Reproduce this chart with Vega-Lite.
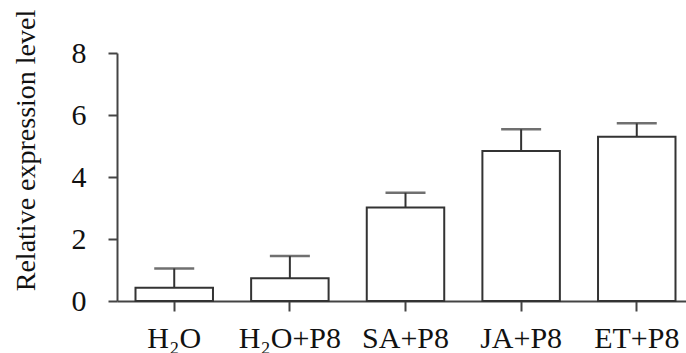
{
  "$schema": "https://vega.github.io/schema/vega-lite/v6.json",
  "autosize": "none",
  "width": 577,
  "height": 248,
  "padding": {"left": 117, "top": 53, "right": 0, "bottom": 52},
  "background": "white",
  "config": {
    "view": {"stroke": null},
    "font": "Liberation Serif"
  },
  "data": {
    "values": [
      {"treatment": "H₂O", "mean": 0.43, "upper": 1.05},
      {"treatment": "H₂O+P8", "mean": 0.73, "upper": 1.45},
      {"treatment": "SA+P8", "mean": 3.02, "upper": 3.49},
      {"treatment": "JA+P8", "mean": 4.84, "upper": 5.54},
      {"treatment": "ET+P8", "mean": 5.3, "upper": 5.73}
    ]
  },
  "encoding": {
    "x": {
      "field": "treatment",
      "type": "nominal",
      "sort": null,
      "scale": {"paddingInner": 0.33, "paddingOuter": 0.16},
      "axis": {
        "title": null,
        "labelAngle": 0,
        "labelFont": "Liberation Serif",
        "labelFontSize": 30,
        "labelColor": "#111",
        "labelPadding": 12,
        "tickSize": 10,
        "tickWidth": 2,
        "tickColor": "#444",
        "domainColor": "#444",
        "domainWidth": 2,
        "grid": false
      }
    }
  },
  "layer": [
    {
      "mark": {"type": "rule", "stroke": "#333", "strokeWidth": 2},
      "encoding": {
        "y": {"field": "mean", "type": "quantitative"},
        "y2": {"field": "upper"}
      }
    },
    {
      "mark": {"type": "tick", "color": "#333", "size": 40, "thickness": 2.5, "orient": "horizontal"},
      "encoding": {
        "y": {"field": "upper", "type": "quantitative"}
      }
    },
    {
      "mark": {"type": "bar", "fill": "white", "stroke": "#333", "strokeWidth": 2},
      "encoding": {
        "y": {
          "field": "mean",
          "type": "quantitative",
          "scale": {"domain": [0, 8], "nice": false},
          "axis": {
            "title": "Relative expression level",
            "titleFont": "Liberation Serif",
            "titleFontSize": 28,
            "titleFontWeight": "normal",
            "titleColor": "#111",
            "titleAngle": -90,
            "titleAlign": "center",
            "titleBaseline": "middle",
            "titleX": -91,
            "titleY": 97,
            "values": [0, 2, 4, 6, 8],
            "labelFont": "Liberation Serif",
            "labelFontSize": 30,
            "labelColor": "#111",
            "labelPadding": 22,
            "tickSize": 9,
            "tickWidth": 2,
            "tickColor": "#444",
            "domainColor": "#444",
            "domainWidth": 2,
            "grid": false
          }
        }
      }
    }
  ]
}
